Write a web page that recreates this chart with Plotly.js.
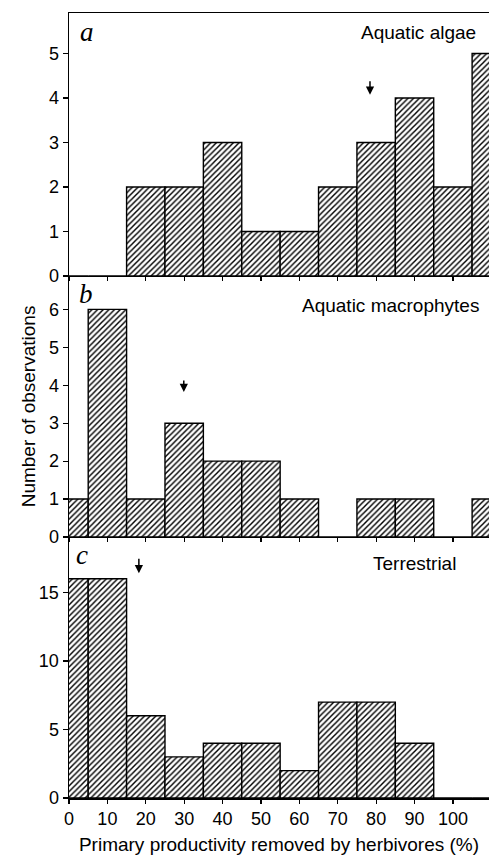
<!DOCTYPE html>
<html>
<head>
<meta charset="utf-8">
<script src="https://cdn.plot.ly/plotly-3.0.1.min.js"></script>
<style>html,body{margin:0;padding:0;background:#fff;}#chart{width:489px;height:857px;}</style>
</head>
<body>
<div id="chart"></div>
<script>
// bin centres (% of primary productivity removed), width 10
const binCentres = [0, 10, 20, 30, 40, 50, 60, 70, 80, 90, 100, 110];
const algaeCounts = [0, 0, 2, 2, 3, 1, 1, 2, 3, 4, 2, 5];
const macrophyteCounts = [1, 6, 1, 3, 2, 2, 1, 0, 1, 1, 0, 1];
const terrestrialCounts = [16, 16, 6, 3, 4, 4, 2, 7, 7, 4, 0, 0];
const panelNames = ["Aquatic algae", "Aquatic macrophytes", "Terrestrial"];
const panelLetters = ["a", "b", "c"];
const meanArrows = [78.4, 29.9, 18.2];
const xTicks = [0, 10, 20, 30, 40, 50, 60, 70, 80, 90, 100];

const FONT = "Liberation Sans, Arial, sans-serif";
const pattern = {shape: "/", fgcolor: "#000", bgcolor: "#fff", size: 4, solidity: 0.36};

function barTrace(y, xa, ya) {
  return {
    type: "bar", x: binCentres, y: y, width: 10, xaxis: xa, yaxis: ya,
    marker: {color: "#fff", pattern: pattern, line: {color: "#000", width: 1.4}},
    hoverinfo: "skip", showlegend: false
  };
}

const data = [
  barTrace(algaeCounts, "x", "y"),
  barTrace(macrophyteCounts, "x2", "y2"),
  barTrace(terrestrialCounts, "x3", "y3")
];

const xRange = [0, 109.4];
function xAxis(anchor, labels, mirror) {
  return {
    anchor: anchor, range: xRange, tickvals: xTicks, showticklabels: labels,
    ticks: "outside", ticklen: 4, tickwidth: 1.2, tickcolor: "#000",
    showline: true, linecolor: "#000", linewidth: 1.5, mirror: mirror,
    showgrid: false, zeroline: false, fixedrange: true,
    tickfont: {family: FONT, size: 18, color: "#000"}
  };
}
function yAxis(anchorX, domain, range, tickvals) {
  return {
    anchor: anchorX, domain: domain, range: range, tickvals: tickvals,
    ticks: "outside", ticklen: 5, tickwidth: 1.2, tickcolor: "#000",
    showline: true, linecolor: "#000", linewidth: 1.5,
    showgrid: false, zeroline: false, fixedrange: true,
    tickfont: {family: FONT, size: 18, color: "#000"}
  };
}

const layout = {
  width: 489, height: 857,
  margin: {l: 69, r: 0, t: 13, b: 59},
  paper_bgcolor: "#fff", plot_bgcolor: "rgba(0,0,0,0)",
  bargap: 0,
  xaxis: xAxis("y", false, true),
  xaxis2: xAxis("y2", false, false),
  xaxis3: Object.assign(xAxis("y3", true, false), {
    title: {text: "Primary productivity removed by herbivores (%)", font: {family: FONT, size: 19, color: "#000"}, standoff: 9}
  }),
  yaxis: yAxis("x", [0.665, 1], [0, 5.91], [0, 1, 2, 3, 4, 5]),
  yaxis2: Object.assign(yAxis("x2", [0.3325, 0.665], [0, 6.88], [0, 1, 2, 3, 4, 5, 6]), {
    title: {text: "Number of observations", font: {family: FONT, size: 19, color: "#000"}, standoff: 8}
  }),
  yaxis3: yAxis("x3", [0, 0.3325], [0, 19.05], [0, 5, 10, 15]),
  annotations: [],
  showlegend: false
};

const axesPairs = [["x", "y"], ["x2", "y2"], ["x3", "y3"]];
const labelPos = [[106.5, 5.48], [107.3, 6.11], [101.3, 17.1]];
const letterPos = [[4.8, 5.48], [4.3, 6.4], [3.5, 17.7]];
const arrowTip = [4.07, 3.82, 16.4];
const arrowLen = [15, 13, 16];
for (let i = 0; i < 3; i++) {
  layout.annotations.push({
    xref: axesPairs[i][0], yref: axesPairs[i][1],
    x: labelPos[i][0], y: labelPos[i][1], xanchor: "right", yanchor: "middle",
    text: panelNames[i], showarrow: false,
    font: {family: FONT, size: 19, color: "#000"}
  });
  layout.annotations.push({
    xref: axesPairs[i][0], yref: axesPairs[i][1],
    x: letterPos[i][0], y: letterPos[i][1], xanchor: "center", yanchor: "middle",
    text: "<i>" + panelLetters[i] + "</i>", showarrow: false,
    font: {family: "Liberation Serif, Times New Roman, serif", size: 27, color: "#000"}
  });
  layout.annotations.push({
    xref: axesPairs[i][0], yref: axesPairs[i][1],
    x: meanArrows[i], y: arrowTip[i], ax: 0, ay: -arrowLen[i],
    text: "", showarrow: true, arrowhead: 2, arrowsize: 1.1, arrowwidth: 1.5, arrowcolor: "#000"
  });
}

Plotly.newPlot("chart", data, layout, {displayModeBar: false, staticPlot: true});
</script>
</body>
</html>
